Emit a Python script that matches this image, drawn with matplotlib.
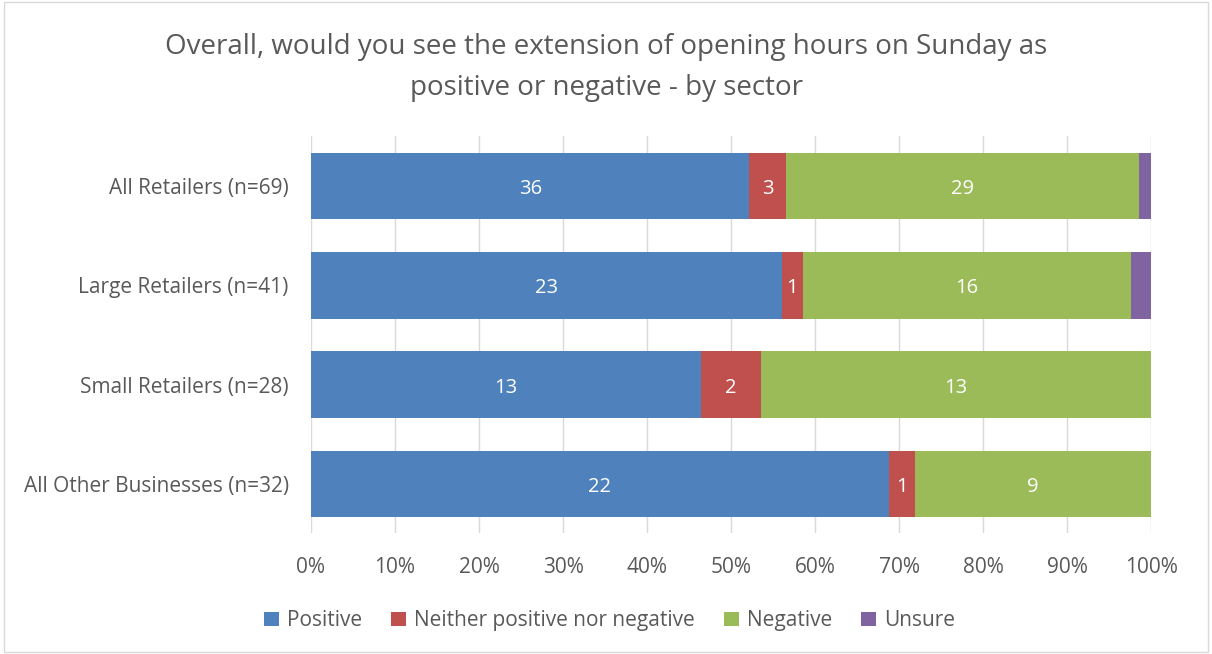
import matplotlib

matplotlib.use("Agg")
import matplotlib.pyplot as plt
import numpy as np
from matplotlib.patches import Rectangle

CATEGORIES = [
    "All Retailers (n=69)",
    "Large Retailers (n=41)",
    "Small Retailers (n=28)",
    "All Other Businesses (n=32)",
]
SERIES = ["Positive", "Neither positive nor negative", "Negative", "Unsure"]
POSITIVE = [36, 23, 13, 22]
NEITHER = [3, 1, 2, 1]
NEGATIVE = [29, 16, 13, 9]
UNSURE = [1, 1, 0, 0]
COLORS = ["#4F81BD", "#C0504D", "#9BBB59", "#8064A2"]
TEXT_GREY = "#595959"

plt.rcParams["font.family"] = ["Open Sans", "DejaVu Sans"]

counts = np.array([POSITIVE, NEITHER, NEGATIVE, UNSURE], dtype=float)
totals = counts.sum(axis=0)
shares = counts / totals

fig = plt.figure(figsize=(12.12, 6.54), dpi=100)
fig.patches.append(
    Rectangle((0.003, 0.003), 0.994, 0.994, transform=fig.transFigure,
              fill=False, edgecolor="#D9D9D9", linewidth=1.0)
)
ax = fig.add_axes([0.2566, 0.1843, 0.6931, 0.6070])

y = np.arange(len(CATEGORIES))
left = np.zeros(len(CATEGORIES))
for i, name in enumerate(SERIES):
    ax.barh(y, shares[i], left=left, height=0.67, color=COLORS[i],
            label=name, zorder=3)
    for j in range(len(CATEGORIES)):
        if counts[i, j] > 0 and i < 3:
            ax.text(left[j] + shares[i, j] / 2, y[j] + 0.03, f"{int(counts[i, j])}",
                    ha="center", va="center", color="white", fontsize=14.5,
                    zorder=4)
    left += shares[i]

ax.set_xlim(0, 1)
ax.set_ylim(len(CATEGORIES) - 0.5, -0.5)
ax.set_xticks(np.arange(0, 1.01, 0.1))
ax.set_xticklabels([f"{int(round(t * 100))}%" for t in np.arange(0, 1.01, 0.1)])
ax.set_yticks(y)
ax.set_yticklabels(CATEGORIES)
ax.tick_params(axis="both", length=0, labelsize=15, colors=TEXT_GREY)
ax.tick_params(axis="x", pad=17)
ax.tick_params(axis="y", pad=16)
ax.grid(axis="x", color="#D9D9D9", linewidth=1.0, zorder=0)
for spine in ax.spines.values():
    spine.set_visible(False)

fig.text(0.5, 0.897, "Overall, would you see the extension of opening hours on Sunday as\npositive or negative - by sector",
         ha="center", va="center", fontsize=20, color=TEXT_GREY, linespacing=1.6)

fig.legend(loc="center", bbox_to_anchor=(0.503, 0.051), ncol=4, frameon=False,
           fontsize=15, handlelength=0.7, handleheight=0.7, columnspacing=1.4,
           handletextpad=0.4, labelcolor=TEXT_GREY)

fig.savefig("out.png", dpi=100)
